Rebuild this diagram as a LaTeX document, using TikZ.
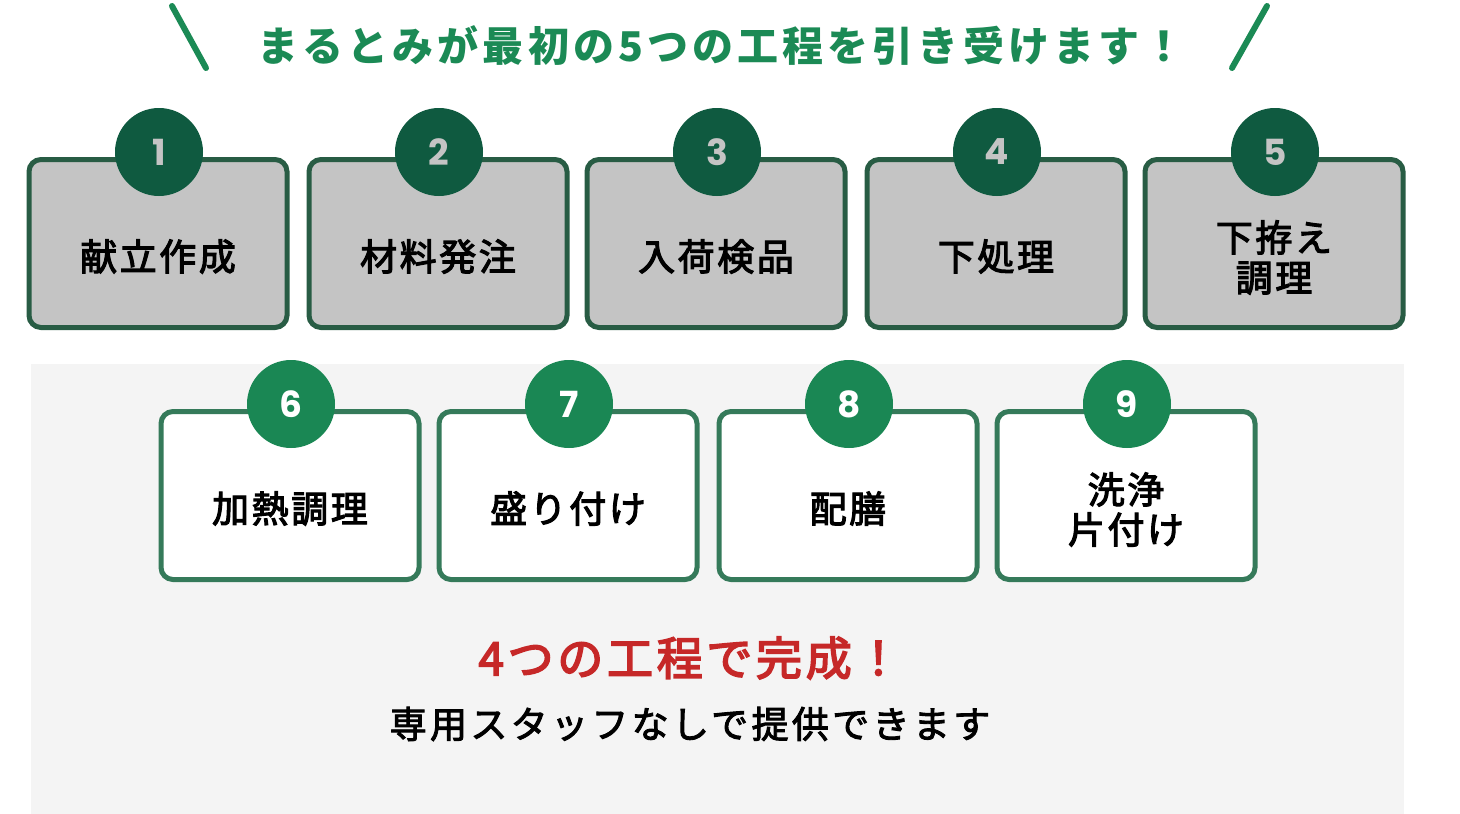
\documentclass[tikz,border=0pt]{standalone}
\usepackage{fontspec}
\newfontfamily\jptitle{Noto Sans CJK JP}[LetterSpace=10]
\newfontfamily\jpsp{Noto Sans CJK JP}[FakeBold=3,LetterSpace=7]
\newfontfamily\jpsub{Noto Sans CJK JP}[FakeBold=2.5,LetterSpace=9]
\newfontfamily\jpred{Noto Sans CJK JP}[FakeBold=3.5,LetterSpace=8]
\newfontfamily\num{Poppins}
\definecolor{titlegreen}{HTML}{1B8A55}
\definecolor{topcirc}{HTML}{0F5A40}
\definecolor{topborder}{HTML}{285C44}
\definecolor{topfill}{HTML}{C4C4C4}
\definecolor{botcirc}{HTML}{1A8754}
\definecolor{botborder}{HTML}{357A5A}
\definecolor{bgpanel}{HTML}{F4F4F4}
\definecolor{redtxt}{HTML}{C62828}
\tikzset{
  topbox/.style={draw=topborder, fill=topfill, line width=5pt, rounded corners=12pt, minimum width=258pt, minimum height=168pt, inner sep=0pt},
  botbox/.style={draw=botborder, fill=white, line width=5pt, rounded corners=12pt, minimum width=258pt, minimum height=168pt, inner sep=0pt},
  topnum/.style={circle, fill=topcirc, minimum size=88pt, inner sep=0pt, text=topfill, font=\num\bfseries\fontsize{36}{36}\selectfont},
  botnum/.style={circle, fill=botcirc, minimum size=88pt, inner sep=0pt, text=white, font=\num\bfseries\fontsize{36}{36}\selectfont},
  boxtext/.style={align=center, font=\jpsp\fontsize{37}{40}\selectfont, text=black},
  slash/.style={draw=titlegreen, line width=6pt, line cap=round}
}
\begin{document}
\begin{tikzpicture}[x=1pt,y=-1pt]
\useasboundingbox (0,0) rectangle (1460,814);
\fill[white] (0,0) rectangle (1460,814);
% title
\node[font=\jptitle\bfseries\fontsize{41}{41}\selectfont, text=titlegreen] (title) at (721,46) {まるとみが最初の5つの工程を引き受けます！};
\coordinate (s1a) at (172,6); \coordinate (s1b) at (206,68);
\coordinate (s2a) at (1267,6); \coordinate (s2b) at (1232,68);
\draw[slash] (s1a) -- (s1b);
\draw[slash] (s2a) -- (s2b);
% panel
\fill[bgpanel] (31,364) rectangle (1404,814);
% top boxes
\node[topbox] (b1) at (158,243.5) {};
\node[topbox] (b2) at (438,243.5) {};
\node[topbox] (b3) at (716,243.5) {};
\node[topbox] (b4) at (996,243.5) {};
\node[topbox] (b5) at (1274,243.5) {};
\node[boxtext] (t1) at (b1.center) [yshift=-13pt] {献立作成};
\node[boxtext] (t2) at (b2.center) [yshift=-13pt] {材料発注};
\node[boxtext] (t3) at (b3.center) [yshift=-13pt] {入荷検品};
\node[boxtext] (t4) at (b4.center) [yshift=-13pt] {下処理};
\node[boxtext] (t5) at (b5.center) [yshift=-14pt] {下拵え\\調理};
\node[topnum] (n1) at (159,152) {1};
\node[topnum] (n2) at (439,152) {2};
\node[topnum] (n3) at (717,152) {3};
\node[topnum] (n4) at (997,152) {4};
\node[topnum] (n5) at (1275,152) {5};
% bottom boxes
\node[botbox] (b6) at (290,495.5) {};
\node[botbox] (b7) at (568,495.5) {};
\node[botbox] (b8) at (848,495.5) {};
\node[botbox] (b9) at (1126,495.5) {};
\node[boxtext] (t6) at (b6.center) [yshift=-13pt] {加熱調理};
\node[boxtext] (t7) at (b7.center) [yshift=-13pt] {盛り付け};
\node[boxtext] (t8) at (b8.center) [yshift=-13pt] {配膳};
\node[boxtext] (t9) at (b9.center) [yshift=-14pt] {洗浄\\片付け};
\node[botnum] (n6) at (291,404) {6};
\node[botnum] (n7) at (569,404) {7};
\node[botnum] (n8) at (849,404) {8};
\node[botnum] (n9) at (1127,404) {9};
% bottom texts
\node[font=\jpred\fontsize{46}{46}\selectfont, text=redtxt] (red) at (690,658) {4つの工程で完成！};
\node[font=\jpsub\fontsize{37}{37}\selectfont, text=black] (sub) at (690,724) {専用スタッフなしで提供できます};
\end{tikzpicture}
\end{document}
